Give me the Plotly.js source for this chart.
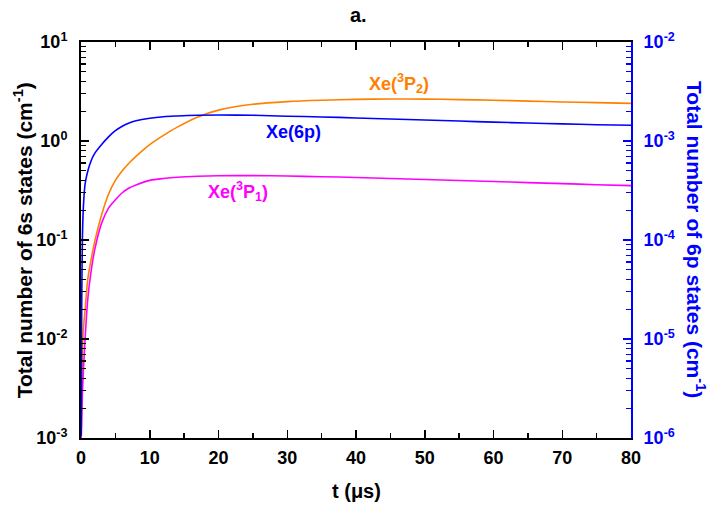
<!DOCTYPE html>
<html>
<head>
<meta charset="utf-8">
<script src="https://cdn.plot.ly/plotly-3.0.1.min.js"></script>
<style>html,body{margin:0;padding:0;background:#fff;}#chart{width:711px;height:508px;}</style>
</head>
<body>
<div id="chart"></div>
<script>
// time (µs)
var tTime = [0.03, 0.1, 0.2, 0.35, 0.6, 1, 1.5, 2, 3, 4, 5, 6, 7, 8, 10, 12, 14, 17, 20, 25, 30, 35, 40, 45, 50, 55, 60, 65, 70, 75, 80];
// Xe(3P2), left axis (cm^-1)
var xe3P2 = [0.001, 0.003, 0.007, 0.0125, 0.02, 0.041, 0.065, 0.097, 0.18, 0.29, 0.40, 0.50, 0.60, 0.70, 0.92, 1.14, 1.38, 1.75, 2.05, 2.35, 2.50, 2.58, 2.63, 2.66, 2.65, 2.62, 2.58, 2.53, 2.48, 2.44, 2.40];
// Xe(3P1), left axis (cm^-1)
var xe3P1 = [0.001, 0.0015, 0.0028, 0.0048, 0.0102, 0.026, 0.05, 0.08, 0.148, 0.21, 0.255, 0.30, 0.335, 0.36, 0.40, 0.418, 0.43, 0.44, 0.445, 0.447, 0.443, 0.436, 0.428, 0.418, 0.408, 0.399, 0.39, 0.38, 0.371, 0.362, 0.354];
// Xe(6p), right axis (cm^-1)
var xe6p = [1.05e-6, 2e-5, 1e-4, 2.2e-4, 3.7e-4, 5e-4, 6.4e-4, 7.5e-4, 9.2e-4, 1.1e-3, 1.27e-3, 1.41e-3, 1.52e-3, 1.6e-3, 1.7e-3, 1.76e-3, 1.79e-3, 1.82e-3, 1.83e-3, 1.82e-3, 1.78e-3, 1.75e-3, 1.71e-3, 1.67e-3, 1.63e-3, 1.59e-3, 1.55e-3, 1.52e-3, 1.49e-3, 1.46e-3, 1.44e-3];
// tick labels
var xTickVals = [0, 10, 20, 30, 40, 50, 60, 70, 80];
var yLeftVals = [1e-3, 1e-2, 1e-1, 1, 10];
var yLeftText = ['10<sup>-3</sup>', '10<sup>-2</sup>', '10<sup>-1</sup>', '10<sup>0</sup>', '10<sup>1</sup>'];
var yRightVals = [1e-6, 1e-5, 1e-4, 1e-3, 1e-2];
var yRightText = ['10<sup>-6</sup>', '10<sup>-5</sup>', '10<sup>-4</sup>', '10<sup>-3</sup>', '10<sup>-2</sup>'];

var FONT = 'Liberation Sans, Arial, sans-serif';
var BLUE = '#0000ff', ORANGE = '#ff8000', MAGENTA = '#ff00ff';

var traces = [
  {x: tTime, y: xe3P2, type: 'scatter', mode: 'lines', line: {color: ORANGE, width: 1.6, shape: 'spline', smoothing: 0.8}, yaxis: 'y', name: 'Xe(3P2)'},
  {x: tTime, y: xe3P1, type: 'scatter', mode: 'lines', line: {color: MAGENTA, width: 1.6, shape: 'spline', smoothing: 0.8}, yaxis: 'y', name: 'Xe(3P1)'},
  {x: tTime, y: xe6p, type: 'scatter', mode: 'lines', line: {color: BLUE, width: 1.6, shape: 'spline', smoothing: 0.8}, yaxis: 'y2', name: 'Xe(6p)'}
];

var tickFont = {family: FONT, size: 18, color: '#000', weight: 'bold'};

function ann(text, xref, yref, x, y, size, color, angle) {
  return {text: text, xref: xref, yref: yref, x: x, y: y, xanchor: 'center', yanchor: 'middle',
          textangle: angle || 0, showarrow: false,
          font: {family: FONT, size: size, color: color, weight: 'bold'}};
}

var layout = {
  width: 711, height: 508,
  margin: {l: 81, r: 80, t: 42, b: 70},
  paper_bgcolor: '#fff', plot_bgcolor: '#fff',
  showlegend: false,
  xaxis: {
    range: [0, 80], tickvals: xTickVals, ticks: 'inside', ticklen: 8, tickwidth: 1.5, tickcolor: '#000',
    showline: true, linecolor: '#000', linewidth: 2, mirror: 'ticks', showgrid: false, zeroline: false,
    tickfont: tickFont, ticklabelstandoff: 2,
    minor: {dtick: 5, ticks: 'inside', ticklen: 5, tickwidth: 1.5, tickcolor: '#000', showgrid: false}
  },
  yaxis: {
    type: 'log', range: [-3, 1], tickvals: yLeftVals, ticktext: yLeftText,
    ticks: 'inside', ticklen: 8, tickwidth: 1.5, tickcolor: '#000',
    showline: true, linecolor: '#000', linewidth: 2, showgrid: false, zeroline: false,
    tickfont: tickFont, ticklabelstandoff: 8,
    minor: {dtick: 'D1', ticks: 'inside', ticklen: 5, tickwidth: 1.2, tickcolor: '#000', showgrid: false}
  },
  yaxis2: {
    type: 'log', range: [-6, -2], tickvals: yRightVals, ticktext: yRightText, overlaying: 'y', side: 'right',
    ticks: 'inside', ticklen: 8, tickwidth: 1.5, tickcolor: BLUE,
    showline: true, linecolor: BLUE, linewidth: 2, showgrid: false, zeroline: false,
    tickfont: {family: FONT, size: 18, color: BLUE, weight: 'bold'}, ticklabelstandoff: 7,
    minor: {dtick: 'D1', ticks: 'inside', ticklen: 5, tickwidth: 1.2, tickcolor: BLUE, showgrid: false}
  },
  annotations: [
    ann('a.', 'paper', 'paper', 0.505, 1.068, 20, '#000'),
    ann('t (μs)', 'paper', 'paper', 0.5, -0.134, 20, '#000'),
    ann('Total number of 6s states (cm<sup>-1</sup>)', 'paper', 'paper', -0.105, 0.5, 21, '#000', -90),
    ann('Total number of 6p states (cm<sup>-1</sup>)', 'paper', 'paper', 1.118, 0.5, 21, BLUE, 90),
    ann('Xe(<sup>3</sup>P<sub>2</sub>)', 'x', 'y', 46.2, 0.576, 18, ORANGE),
    ann('Xe(6p)', 'x', 'y', 30.9, 0.091, 18, BLUE),
    ann('Xe(<sup>3</sup>P<sub>1</sub>)', 'x', 'y', 22.9, -0.515, 18, MAGENTA)
  ]
};

Plotly.newPlot('chart', traces, layout, {displayModeBar: false, staticPlot: true});
</script>
</body>
</html>
